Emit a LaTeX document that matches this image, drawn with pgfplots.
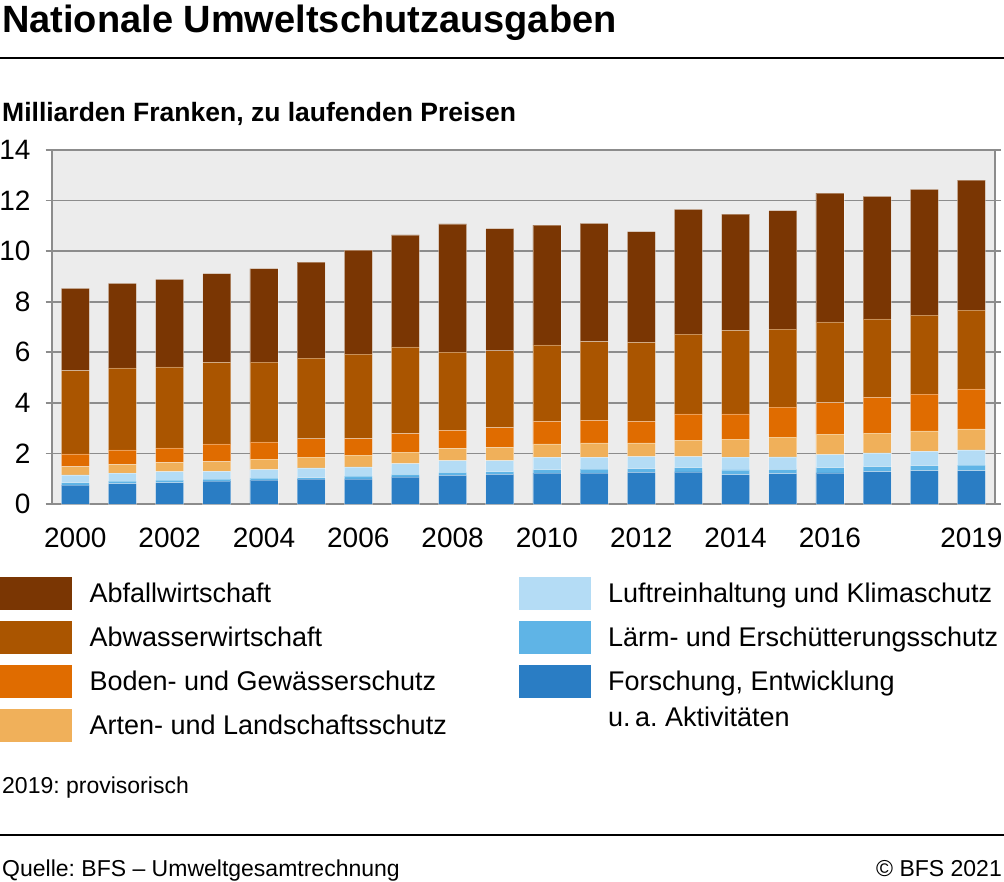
\documentclass[border=0pt]{standalone}
\usepackage{pgfplots}
\pgfplotsset{compat=1.18}
\usepackage{fontspec}
\setmainfont{Liberation Sans}
\frenchspacing
\definecolor{cAbfall}{HTML}{7A3603}
\definecolor{cAbwasser}{HTML}{AA5500}
\definecolor{cBoden}{HTML}{E06C00}
\definecolor{cArten}{HTML}{F0B05A}
\definecolor{cLuft}{HTML}{B4DCF5}
\definecolor{cLaerm}{HTML}{5FB4E6}
\definecolor{cForsch}{HTML}{2A7DC4}
\definecolor{bgc}{HTML}{ECECEC}
\definecolor{gridc}{HTML}{8C8C8C}
\pgfplotsset{sw/.style={legend image code/.code={\fill[#1] (0pt,-7pt) rectangle (71pt,25pt); \path (89pt,0pt);}}}
\pgfplotsset{bars/.style={fill=#1, draw=white, draw opacity=0.35, line width=0.6pt}}
\begin{document}
\begin{tikzpicture}
\useasboundingbox (0pt,0pt) rectangle (1004pt,-882pt);
\node[anchor=base west, inner sep=0pt, font=\fontsize{38}{40}\selectfont\bfseries] at (2pt,-33pt) {Nationale Umweltschutzausgaben};
\draw[line width=2.5pt] (0pt,-58pt) -- (1004pt,-58pt);
\node[anchor=base west, inner sep=0pt, font=\fontsize{26.5}{28}\selectfont\bfseries] at (2pt,-122pt) {Milliarden Franken, zu laufenden Preisen};
\begin{axis}[
  at={(51.7pt,-504pt)}, anchor=south west,
  scale only axis, width=943.3pt, height=354pt,
  xmin=1999.5, xmax=2019.5, ymin=0, ymax=14,
  ybar stacked, bar width=28pt,
  axis background/.style={fill=bgc},
  axis line style={draw=gridc, line width=2pt},
  ytick={0,2,...,14},
  ymajorgrids, grid style={draw=gridc, line width=1.6pt},
  xtick={2000,2002,2004,2006,2008,2010,2012,2014,2016,2019},
  xticklabels={2000,2002,2004,2006,2008,2010,2012,2014,2016,2019},
  xtick style={draw=none},
  ytick style={draw=gridc, line width=1.6pt},
  tick align=outside, major tick length=6pt,
  tick label style={font=\fontsize{28}{30}\selectfont},
  yticklabel style={anchor=east, inner sep=0pt, xshift=-15pt},
  xticklabel style={anchor=north, inner sep=0pt, yshift=-18pt},
  /pgf/number format/assume math mode=true,
  legend columns=2,
  legend cell align=left,
  legend style={at={(axis description cs:-0.0548,-0.2062)}, anchor=north west, draw=none, fill=none, inner sep=0pt, row sep=11.5pt, column sep=0pt, nodes={inner sep=0pt}, cells={anchor=base west}, font=\fontsize{27}{36}\selectfont},
]
\addplot[bars=cForsch, forget plot] coordinates {(2000,0.75) (2001,0.81) (2002,0.85) (2003,0.90) (2004,0.94) (2005,0.98) (2006,0.99) (2007,1.07) (2008,1.13) (2009,1.17) (2010,1.22) (2011,1.22) (2012,1.25) (2013,1.27) (2014,1.16) (2015,1.20) (2016,1.23) (2017,1.28) (2018,1.32) (2019,1.32)};
\addplot[bars=cLaerm, forget plot] coordinates {(2000,0.10) (2001,0.09) (2002,0.09) (2003,0.08) (2004,0.08) (2005,0.06) (2006,0.11) (2007,0.10) (2008,0.12) (2009,0.11) (2010,0.14) (2011,0.16) (2012,0.15) (2013,0.17) (2014,0.19) (2015,0.17) (2016,0.21) (2017,0.20) (2018,0.20) (2019,0.22)};
\addplot[bars=cLuft, forget plot] coordinates {(2000,0.30) (2001,0.32) (2002,0.34) (2003,0.31) (2004,0.34) (2005,0.39) (2006,0.37) (2007,0.43) (2008,0.47) (2009,0.44) (2010,0.48) (2011,0.46) (2012,0.47) (2013,0.43) (2014,0.50) (2015,0.49) (2016,0.51) (2017,0.54) (2018,0.56) (2019,0.60)};
\addplot[bars=cArten, forget plot] coordinates {(2000,0.33) (2001,0.35) (2002,0.37) (2003,0.39) (2004,0.41) (2005,0.42) (2006,0.46) (2007,0.45) (2008,0.48) (2009,0.52) (2010,0.54) (2011,0.58) (2012,0.55) (2013,0.66) (2014,0.72) (2015,0.78) (2016,0.81) (2017,0.78) (2018,0.81) (2019,0.83)};
\addplot[bars=cBoden, forget plot] coordinates {(2000,0.50) (2001,0.57) (2002,0.57) (2003,0.70) (2004,0.69) (2005,0.73) (2006,0.66) (2007,0.73) (2008,0.71) (2009,0.78) (2010,0.89) (2011,0.89) (2012,0.85) (2013,1.03) (2014,0.99) (2015,1.19) (2016,1.25) (2017,1.42) (2018,1.46) (2019,1.58)};
\addplot[bars=cAbwasser, forget plot] coordinates {(2000,3.29) (2001,3.24) (2002,3.20) (2003,3.22) (2004,3.15) (2005,3.19) (2006,3.34) (2007,3.43) (2008,3.10) (2009,3.04) (2010,3.02) (2011,3.11) (2012,3.12) (2013,3.16) (2014,3.31) (2015,3.09) (2016,3.19) (2017,3.10) (2018,3.12) (2019,3.12)};
\addplot[bars=cAbfall, forget plot] coordinates {(2000,3.26) (2001,3.35) (2002,3.46) (2003,3.51) (2004,3.70) (2005,3.80) (2006,4.11) (2007,4.43) (2008,5.07) (2009,4.83) (2010,4.74) (2011,4.68) (2012,4.38) (2013,4.93) (2014,4.59) (2015,4.68) (2016,5.09) (2017,4.85) (2018,4.97) (2019,5.14)};
\addlegendimage{sw=cAbfall}
\addlegendentry{\makebox[429pt][l]{Abfallwirtschaft}}
\addlegendimage{sw=cLuft}
\addlegendentry{Luftreinhaltung und Klimaschutz}
\addlegendimage{sw=cAbwasser}
\addlegendentry{\makebox[429pt][l]{Abwasserwirtschaft}}
\addlegendimage{sw=cLaerm}
\addlegendentry{Lärm- und Erschütterungsschutz}
\addlegendimage{sw=cBoden}
\addlegendentry{\makebox[429pt][l]{Boden- und Gewässerschutz}}
\addlegendimage{sw=cForsch}
\addlegendentry{\raisebox{0pt}[\height][0pt]{\begin{tabular}[t]{@{}l@{}}Forschung, Entwicklung\\u.\,a. Aktivitäten\end{tabular}}}
\addlegendimage{sw=cArten}
\addlegendentry{\makebox[429pt][l]{Arten- und Landschaftsschutz}}
\end{axis}
\node[anchor=base west, inner sep=0pt, font=\fontsize{23}{26}\selectfont] at (2pt,-793pt) {2019: provisorisch};
\draw[line width=2pt] (0pt,-835pt) -- (1004pt,-835pt);
\node[anchor=base west, inner sep=0pt, font=\fontsize{23}{26}\selectfont] at (2pt,-876pt) {Quelle: BFS -- Umweltgesamtrechnung};
\node[anchor=base east, inner sep=0pt, font=\fontsize{23}{26}\selectfont] at (1002pt,-876pt) {© BFS 2021};
\end{tikzpicture}
\end{document}
